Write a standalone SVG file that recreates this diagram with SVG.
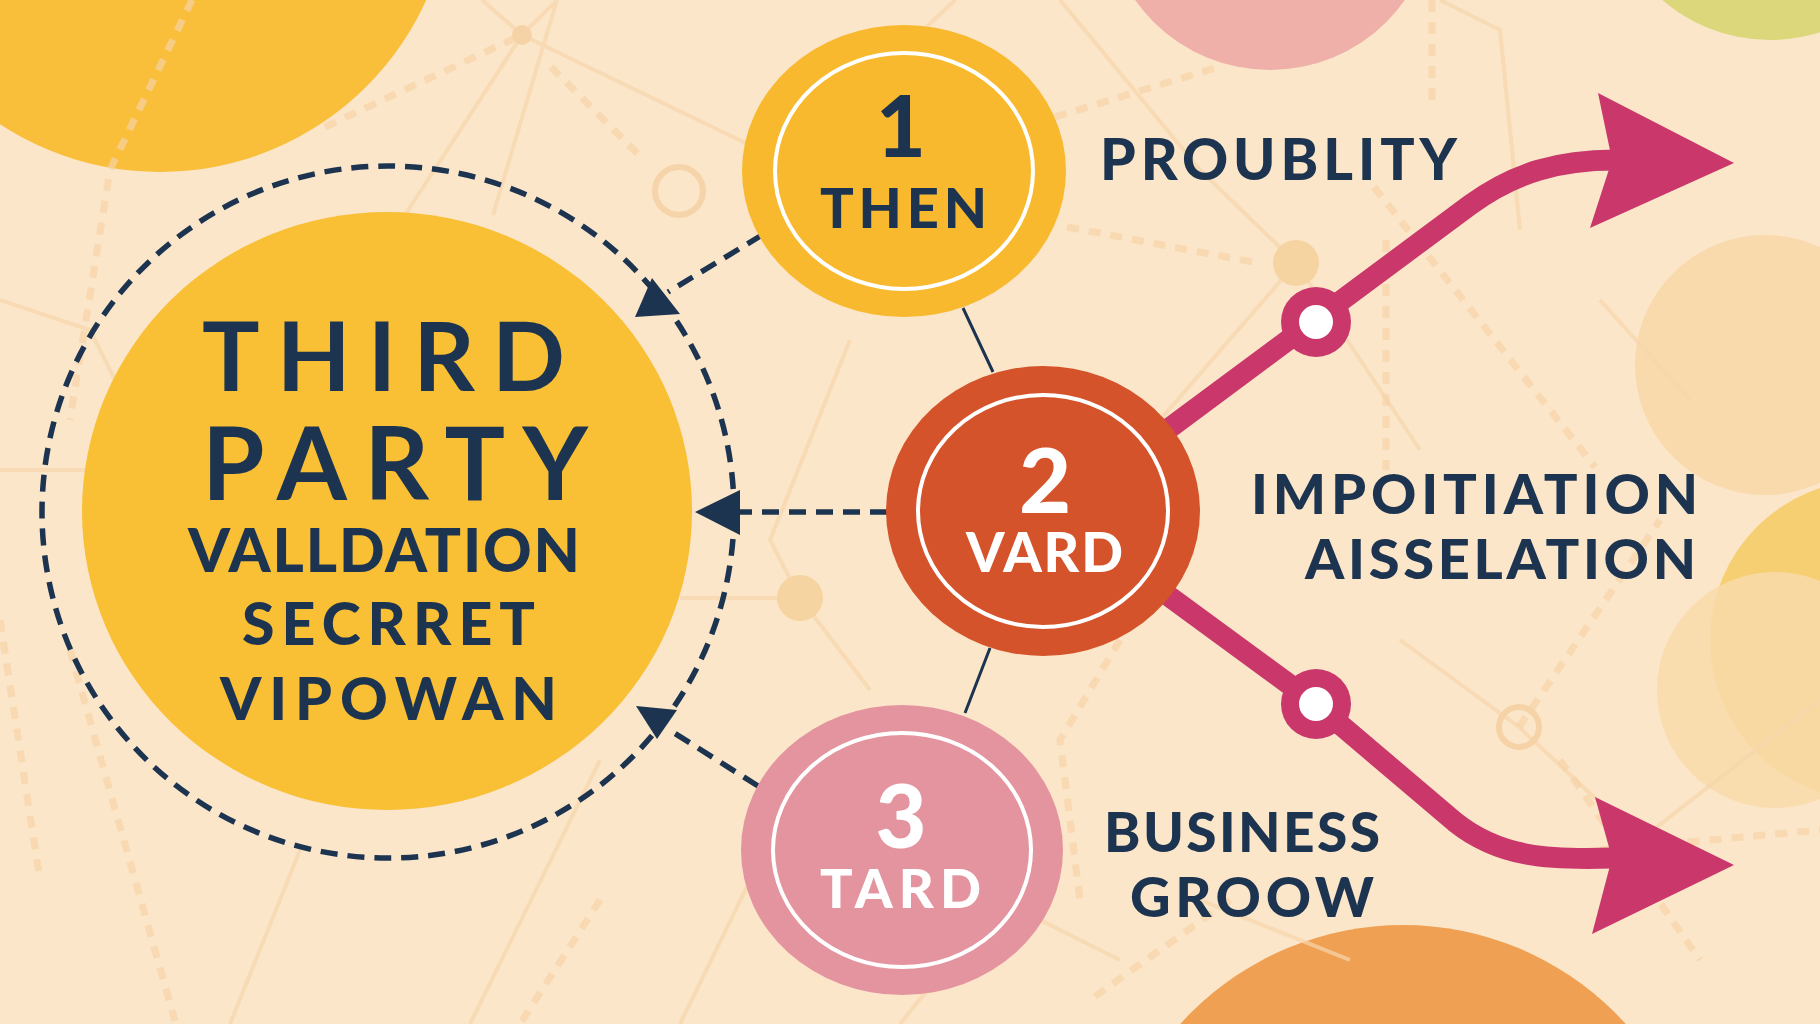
<svg xmlns="http://www.w3.org/2000/svg" width="1820" height="1024" viewBox="0 0 1820 1024">
<style>
.t{font-family:Lato,"Open Sans","Liberation Sans",sans-serif;font-weight:900;fill:#1C3450}
.m{font-family:Lato,"Open Sans","Liberation Sans",sans-serif;font-weight:700;fill:#1C3450}
.w{font-family:Lato,"Open Sans","Liberation Sans",sans-serif;font-weight:900;fill:#FFFFFF}
.bgl{fill:none;stroke:#F6D6AC;stroke-width:4;opacity:0.7}
.bgd{fill:none;stroke:#F6D3A6;stroke-width:7;stroke-dasharray:12 10;opacity:0.7}
.ring{fill:none;stroke:#FFFFFF;stroke-width:4}
.dash{fill:none;stroke:#1C3450;stroke-width:5.5;stroke-dasharray:17 10}
.nav{fill:#1C3450}
.mag{fill:none;stroke:#C9376B;stroke-width:21}
</style>
<rect width="1820" height="1024" fill="#FBE6C9"/>
<g id="background">
  <circle cx="160" cy="-120" r="292" fill="#F9BF3A"/>
  <circle cx="1270" cy="-95" r="165" fill="#EFB0AA"/>
  <circle cx="1770" cy="-125" r="165" fill="#DCD77A"/>
  <circle cx="1765" cy="365" r="130" fill="#F8DAAC"/>
  <circle cx="1870" cy="640" r="160" fill="#F6CF72"/>
  <circle cx="1775" cy="690" r="118" fill="#F8DAAA" opacity="0.85"/>
  <circle cx="1403" cy="1225" r="300" fill="#F0A052"/>
  <path class="bgl" d="M482,0 L522,35 L557,0 M522,35 L405,215 M522,35 L760,150 M557,0 L493,215 M0,470 L165,470 M0,300 L90,330 L160,470 M680,598 L800,598 L870,690 M800,598 L770,540 L850,340 M955,0 L860,90 M1060,0 L1200,170 L1296,263 L1420,450 M1296,263 L1160,420 M1440,0 L1500,30 L1520,230 M1600,300 L1690,400 M1519,727 L1400,640 M1519,727 L1640,840 L1820,700 M1200,900 L1350,960 M900,1024 L1000,900 L1120,960 M680,1024 L760,860 M470,1024 L600,760 M230,1024 L300,850"/>
  <path class="bgd" d="M192,0 L110,170 L70,420 M70,650 L175,1021 M0,620 L40,880 M325,127 L522,35 M551,67 L644,160 M1055,117 L1218,67 M1067,227 L1258,263 M1432,0 L1432,100 M1386,240 L1386,470 M1374,187 L1595,467 M1120,640 L1060,740 L1080,900 M1519,727 L1660,520 M1560,760 L1700,960 M1230,900 L1090,1000 M600,900 L520,1024 M1600,850 L1820,830"/>
  <circle cx="679" cy="191" r="24" fill="none" stroke="#F6D4AA" stroke-width="6"/>
  <circle cx="1296" cy="263" r="23" fill="#F5D4A2"/>
  <circle cx="800" cy="598" r="23" fill="#F5D4A2"/>
  <circle cx="1519" cy="727" r="20" fill="none" stroke="#F5D3A6" stroke-width="6"/>
  <circle cx="522" cy="35" r="10" fill="#F5D3A6"/>
</g>
<g id="connectors">
  <circle cx="388" cy="512" r="346" class="dash"/>
  <polygon class="nav" points="652,278 635,317 680,314"/>
  <polygon class="nav" points="695,512 740,490 740,535"/>
  <polygon class="nav" points="636,706 677,710 657,739"/>
  <path class="dash" stroke-dasharray="15 9" d="M762,235 L668,292"/>
  <path class="dash" stroke-dasharray="18 9" d="M887,512 L740,512"/>
  <path class="dash" stroke-dasharray="15 9" d="M758,786 L668,729"/>
  <path d="M963,308 L993,372 M990,648 L965,713" stroke="#1C3450" stroke-width="3" fill="none"/>
  <path class="mag" d="M1140,450 L1470,205 C1515,172 1560,160 1615,160"/>
  <polygon fill="#C9376B" points="1598,93 1734,163 1590,228 1612,160"/>
  <path class="mag" d="M1140,575 L1316,704 L1455,822 C1500,858 1550,860 1612,858"/>
  <polygon fill="#C9376B" points="1595,797 1734,865 1592,934 1612,858"/>
  <circle cx="1316" cy="322" r="35" fill="#C9376B"/>
  <circle cx="1316" cy="322" r="17" fill="#FFFFFF"/>
  <circle cx="1316" cy="704" r="35" fill="#C9376B"/>
  <circle cx="1316" cy="704" r="17" fill="#FFFFFF"/>
</g>
<g id="main">
  <ellipse cx="387" cy="511" rx="305" ry="299" fill="#F9BF35"/>
  <text class="m" x="202" y="391" font-size="96" textLength="363" lengthAdjust="spacing">THIRD</text>
  <text class="m" x="202" y="500" font-size="101" textLength="386" lengthAdjust="spacing">PARTY</text>
  <text class="t" x="188" y="572" font-size="60" textLength="392" lengthAdjust="spacing">VALLDATION</text>
  <text class="t" x="242" y="645" font-size="59" textLength="293" lengthAdjust="spacing">SECRRET</text>
  <text class="t" x="220" y="720" font-size="59" textLength="337" lengthAdjust="spacing">VIPOWAN</text>
</g>
<g id="node1">
  <ellipse cx="904" cy="171" rx="162" ry="146" fill="#F8B92F"/>
  <ellipse cx="904" cy="171" rx="129" ry="118" class="ring"/>
  <text class="t" x="901" y="157" font-size="86" text-anchor="middle">1</text>
  <text class="t" x="820" y="228" font-size="56" textLength="167" lengthAdjust="spacing">THEN</text>
</g>
<g id="node2">
  <ellipse cx="1043" cy="511" rx="157" ry="145" fill="#D5532B"/>
  <ellipse cx="1043" cy="511" rx="125" ry="116" class="ring"/>
  <text class="w" x="1045" y="513" font-size="90" text-anchor="middle">2</text>
  <text class="w" x="966" y="572" font-size="55" textLength="157" lengthAdjust="spacing">VARD</text>
</g>
<g id="node3">
  <ellipse cx="902" cy="850" rx="161" ry="145" fill="#E4949F"/>
  <ellipse cx="902" cy="850" rx="129" ry="117" class="ring"/>
  <text class="w" x="901" y="848" font-size="88" text-anchor="middle">3</text>
  <text class="w" x="820" y="908" font-size="54" textLength="161" lengthAdjust="spacing">TARD</text>
</g>
<g id="labels">
  <text class="t" x="1100" y="180" font-size="57" textLength="357" lengthAdjust="spacing">PROUBLITY</text>
  <text class="t" x="1251" y="514" font-size="56" textLength="447" lengthAdjust="spacing">IMPOITIATION</text>
  <text class="t" x="1305" y="579" font-size="56" textLength="391" lengthAdjust="spacing">AISSELATION</text>
  <text class="t" x="1104" y="852" font-size="55" textLength="276" lengthAdjust="spacing">BUSINESS</text>
  <text class="t" x="1130" y="917" font-size="56" textLength="244" lengthAdjust="spacing">GROOW</text>
</g>
</svg>
